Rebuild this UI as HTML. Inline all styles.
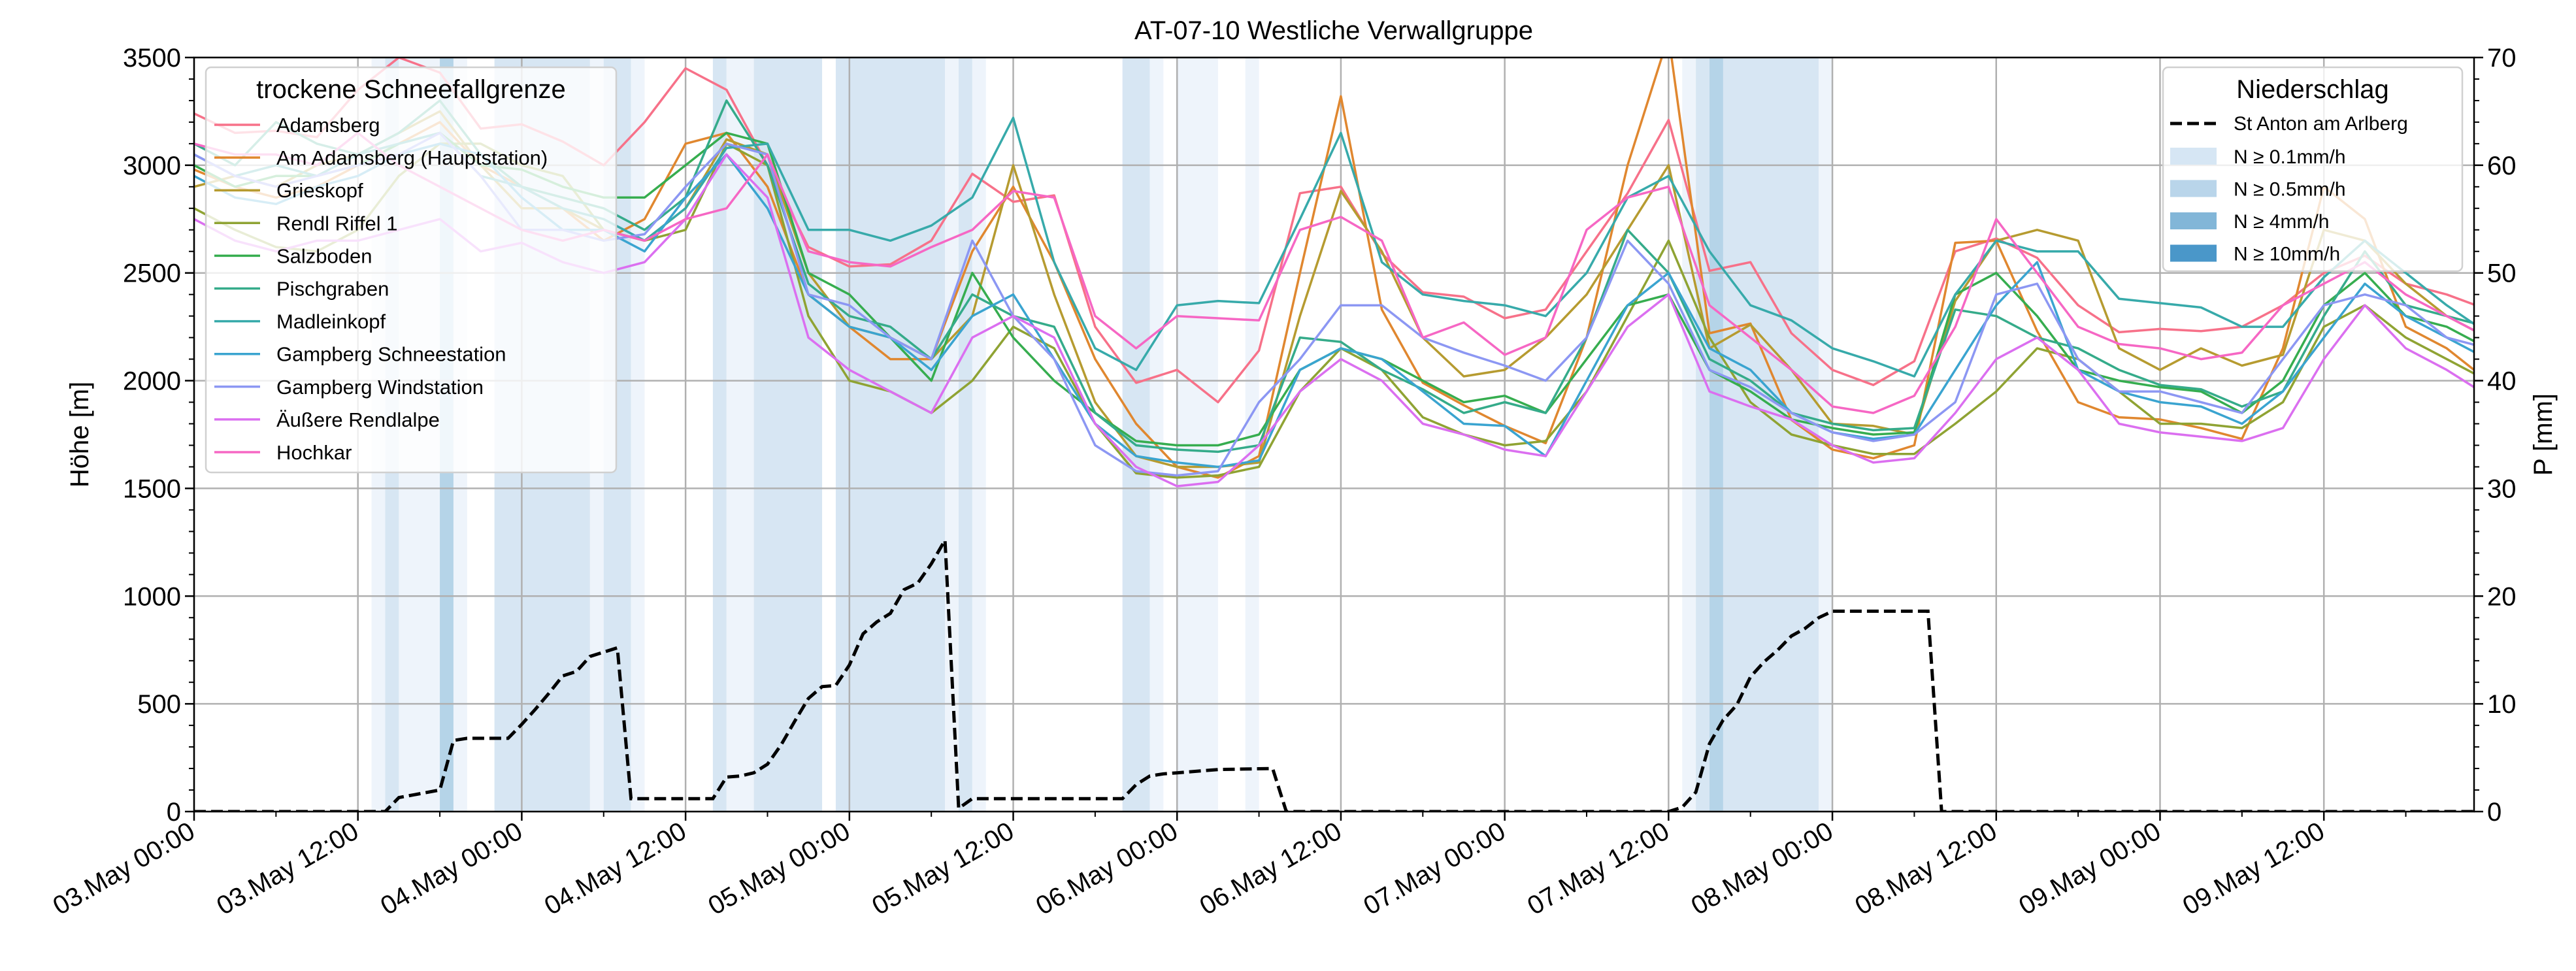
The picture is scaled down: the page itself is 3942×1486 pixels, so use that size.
<!DOCTYPE html>
<html><head><meta charset="utf-8">
<style>
html,body{margin:0;padding:0;background:#fff;}
svg text{font-family:"Liberation Sans","DejaVu Sans",sans-serif;}
</style></head>
<body>
<svg id="chart" xmlns="http://www.w3.org/2000/svg" width="3942" height="1481" viewBox="0 0 3942 1481">
<defs><clipPath id="plotclip"><rect x="297" y="88" width="3489" height="1154"/></clipPath></defs>
<rect x="0" y="0" width="3942" height="1481" fill="#fff"/>
<text x="2041" y="60" font-size="40" text-anchor="middle">AT-07-10 Westliche Verwallgruppe</text>
<g id="bands" clip-path="url(#plotclip)"></g>
<g id="grid"></g>
<g id="lines" clip-path="url(#plotclip)"></g>
<g id="precip" clip-path="url(#plotclip)"></g>
<g id="axes"></g>
<g id="legend-left"></g>
<g id="legend-right"></g>
<text transform="translate(135,665) rotate(-90)" font-size="40" text-anchor="middle">Höhe [m]</text>
<text transform="translate(3905,665) rotate(-90)" font-size="40" text-anchor="middle">P [mm]</text>
</svg>
<script>
const hours = [0,3,6,9,12,15,18,21,24,27,30,33,36,39,42,45,48,51,54,57,60,63,66,69,72,75,78,81,84,87,90,93,96,99,102,105,108,111,114,117,120,123,126,129,132,135,138,141,144,147,150,153,156,159,162,165,168];
const stationNames = ["Adamsberg","Am Adamsberg (Hauptstation)","Grieskopf","Rendl Riffel 1","Salzboden","Pischgraben","Madleinkopf","Gampberg Schneestation","Gampberg Windstation","Äußere Rendlalpe","Hochkar"];
const stationColors = ["#f77189","#e0872f","#b69b30","#8fa333","#36ad4f","#35ab8a","#37aaaa","#3aa4d0","#8c97f3","#db6ff0","#f667c4"];
const sAdamsberg = [3240,3150,3160,3130,3350,3500,3430,3170,3190,3110,3000,3200,3450,3350,3000,2620,2530,2540,2650,2960,2830,2860,2250,1990,2050,1900,2140,2870,2900,2590,2410,2390,2290,2330,2600,2870,3210,2510,2550,2220,2050,1980,2090,2600,2660,2570,2350,2225,2240,2230,2250,2350,2500,2580,2450,2400,2330];
const sAmAdamsberg = [2980,2900,2850,2900,3000,3100,3200,3000,2900,2800,2650,2750,3100,3150,2900,2400,2250,2100,2100,2600,2900,2550,2100,1800,1600,1550,1650,2500,3320,2330,1990,1886,1790,1710,2200,3000,3600,2220,2265,1818,1680,1640,1700,2640,2650,2230,1900,1830,1820,1780,1730,2150,2900,2750,2250,2150,2000];
const sGrieskopf = [2900,2950,2900,3000,3050,3150,3250,3000,2800,2800,2700,2650,2800,3120,3050,2500,2250,2200,2100,2300,3000,2400,1900,1650,1600,1600,1620,2300,2880,2600,2200,2020,2050,2200,2400,2700,3000,2150,2260,2050,1800,1790,1750,2370,2650,2700,2650,2150,2050,2150,2070,2120,2700,2650,2450,2300,2200];
const sRendl = [2800,2700,2620,2600,2700,2950,3100,3100,3000,2950,2700,2650,2700,3100,3000,2300,2000,1950,1850,2000,2250,2150,1800,1570,1550,1560,1600,1950,2150,2050,1830,1750,1700,1720,1950,2300,2650,2200,1900,1750,1700,1660,1660,1800,1950,2150,2100,1950,1800,1800,1780,1900,2250,2350,2200,2100,2000];
const sSalzboden = [3000,2900,2950,2950,3000,3100,3150,3000,2980,2900,2850,2850,3000,3150,3100,2500,2400,2200,2000,2500,2200,2000,1850,1720,1700,1700,1750,2050,2150,2100,2000,1900,1930,1850,2100,2350,2400,2050,1950,1820,1780,1750,1760,2400,2500,2300,2050,2000,1970,1950,1850,2000,2350,2500,2300,2250,2150];
const sPischgraben = [3100,3000,3200,3100,3050,3150,3300,3050,2900,2850,2800,2700,2850,3300,3000,2450,2300,2250,2100,2400,2300,2250,1850,1700,1680,1670,1700,2200,2180,2050,1960,1850,1900,1850,2200,2700,2500,2100,2000,1850,1800,1770,1780,2330,2300,2200,2150,2050,1980,1960,1880,1950,2300,2600,2350,2300,2250];
const sMadleinkopf = [3050,2950,3000,2950,3050,3100,3150,2950,2900,2800,2750,2650,2800,3080,3100,2700,2700,2650,2720,2850,3220,2550,2150,2050,2350,2370,2360,2750,3150,2550,2400,2370,2350,2300,2500,2850,2950,2600,2350,2280,2150,2090,2020,2400,2650,2600,2600,2380,2360,2340,2250,2250,2480,2650,2500,2350,2220];
const sGampbergSchnee = [2950,2850,2820,2900,2950,3050,3100,3050,2850,2700,2700,2600,2850,3050,2800,2400,2250,2200,2050,2300,2400,2100,1800,1650,1620,1600,1630,2050,2150,2100,1950,1800,1790,1650,2000,2350,2500,2150,2050,1850,1760,1730,1750,2050,2350,2550,2050,1950,1900,1880,1800,1950,2200,2450,2300,2200,2100];
const sGampbergWind = [3050,2950,2900,2950,3000,3050,3150,2950,2700,2700,2650,2680,2900,3100,3050,2400,2350,2200,2100,2650,2300,2100,1700,1580,1560,1580,1900,2100,2350,2350,2200,2130,2070,2000,2200,2650,2450,2050,1970,1850,1760,1720,1750,1900,2400,2450,2100,1950,1950,1900,1850,2100,2350,2400,2350,2200,2150];
const sRendlalpe = [2750,2650,2600,2650,2650,2700,2750,2600,2640,2550,2500,2550,2750,3050,2850,2200,2050,1950,1850,2200,2300,2200,1800,1600,1510,1530,1700,1950,2100,2000,1800,1750,1680,1650,1950,2250,2400,1950,1880,1820,1700,1620,1640,1850,2100,2200,2050,1800,1760,1740,1720,1780,2100,2350,2150,2050,1930];
const sHochkar = [3100,3050,3050,3000,3150,3000,2900,2800,2700,2650,2700,2650,2750,2800,3050,2600,2550,2530,2620,2700,2880,2850,2300,2150,2300,2290,2280,2700,2760,2650,2200,2270,2120,2200,2700,2850,2900,2350,2200,2050,1880,1850,1930,2250,2750,2500,2250,2170,2150,2100,2130,2350,2450,2550,2400,2300,2200];
const stationSeries = [sAdamsberg,sAmAdamsberg,sGrieskopf,sRendl,sSalzboden,sPischgraben,sMadleinkopf,sGampbergSchnee,sGampbergWind,sRendlalpe,sHochkar];
const precipHours = [0,14,15,18,19,20,23,24,25,26,27,28,29,30,31,32,38,39,40,41,42,43,44,45,46,47,48,49,50,51,52,53,54,55,56,57,68,69,70,71,72,75,79,80,108,109,110,111,112,113,114,115,116,117,118,119,120,127,128,167];
const precipValues = [0,0,1.3,2.0,6.6,6.8,6.8,8.1,9.5,11,12.6,13,14.4,14.8,15.2,1.2,1.2,3.2,3.3,3.6,4.4,6.2,8.4,10.5,11.6,11.7,13.6,16.5,17.6,18.4,20.6,21.2,23,25.2,0.3,1.2,1.2,2.5,3.3,3.5,3.6,3.9,4.0,0,0,0.4,1.8,6.3,8.5,9.9,12.5,13.9,15,16.3,17,18,18.6,18.6,0,0];
const bandStart = [13,14,15,18,19,22,29,30,32,38,39,41,47,55,56,57,68,70,72,77,109,110,111,112,119];
const bandEnd   = [14,15,18,19,20,29,30,32,33,39,41,46,55,56,57,58,70,71,75,78,110,111,112,119,120];
const bandLevel = [1,2,1,3,1,2,1,2,1,2,1,2,2,1,2,1,2,1,1,1,1,2,3,2,1];
const yTicks = [0,500,1000,1500,2000,2500,3000,3500];
const y2Ticks = [0,10,20,30,40,50,60,70];
const xTickHours = [0,12,24,36,48,60,72,84,96,108,120,132,144,156];
const xTickLabels = ["03.May 00:00","03.May 12:00","04.May 00:00","04.May 12:00","05.May 00:00","05.May 12:00","06.May 00:00","06.May 12:00","07.May 00:00","07.May 12:00","08.May 00:00","08.May 12:00","09.May 00:00","09.May 12:00"];

const NS="http://www.w3.org/2000/svg";
const L=297,R=3786,T=88,B=1242;
function X(h){return L+h*(R-L)/167;}
function Y(m){return B-m*(B-T)/3500;}
function Y2(p){return B-p*(B-T)/70;}
function mk(tag,attrs,parent){const e=document.createElementNS(NS,tag);for(const k in attrs)e.setAttribute(k,attrs[k]);parent.appendChild(e);return e;}
const bandColors=["","#eef4fb","#d7e6f3","#b5d4e8"];

const gB=document.getElementById('bands');
for(let i=0;i<bandStart.length;i++){
  const r=mk('rect',{x:X(bandStart[i]),y:T,width:X(bandEnd[i])-X(bandStart[i]),height:B-T,fill:bandColors[bandLevel[i]]},gB);
  
  
}
const gG=document.getElementById('grid');
xTickHours.forEach(h=>{const l=mk('line',{x1:X(h),x2:X(h),y1:T,y2:B,stroke:'#b0b0b0','stroke-width':2.5},gG);
  
  });
yTicks.forEach(v=>{const l=mk('line',{x1:L,x2:R,y1:Y(v),y2:Y(v),stroke:'#b0b0b0','stroke-width':2.5},gG);
  
  });

const gL=document.getElementById('lines');
stationSeries.forEach((s,i)=>{
  const d=s.map((v,j)=>(j?'L':'M')+X(hours[j]).toFixed(1)+' '+Y(v).toFixed(1)).join(' ');
  const p=mk('path',{d:d,fill:'none',stroke:stationColors[i],'stroke-width':3.5,'stroke-linejoin':'round'},gL);
  
  
});
const gP=document.getElementById('precip');
const pd=precipValues.map((v,j)=>(j?'L':'M')+X(precipHours[j]).toFixed(1)+' '+Y2(v).toFixed(1)).join(' ');
const pp=mk('path',{d:pd,fill:'none',stroke:'#000','stroke-width':5,'stroke-dasharray':'18,8'},gP);



const gA=document.getElementById('axes');
mk('rect',{x:L,y:T,width:R-L,height:B-T,fill:'none',stroke:'#000','stroke-width':2.5},gA);
yTicks.forEach(v=>{mk('line',{x1:L-14,x2:L,y1:Y(v),y2:Y(v),stroke:'#000','stroke-width':2.5},gA);
  const t=mk('text',{x:L-20,y:Y(v)+14,'font-size':40,'text-anchor':'end'},gA);t.textContent=v;
  
  });
for(let v=100;v<3500;v+=100){if(v%500)mk('line',{x1:L-8,x2:L,y1:Y(v),y2:Y(v),stroke:'#000','stroke-width':2},gA);}
y2Ticks.forEach(v=>{mk('line',{x1:R,x2:R+14,y1:Y2(v),y2:Y2(v),stroke:'#000','stroke-width':2.5},gA);
  const t=mk('text',{x:R+20,y:Y2(v)+14,'font-size':40},gA);t.textContent=v;
  
  });
for(let v=2;v<70;v+=2){if(v%10)mk('line',{x1:R,x2:R+8,y1:Y2(v),y2:Y2(v),stroke:'#000','stroke-width':2},gA);}
xTickHours.forEach((h,i)=>{mk('line',{x1:X(h),x2:X(h),y1:B,y2:B+14,stroke:'#000','stroke-width':2.5},gA);
  mk('line',{x1:X(h+6),x2:X(h+6),y1:B,y2:B+8,stroke:'#000','stroke-width':2},gA);
  const t=mk('text',{transform:`translate(${X(h)+4},${B+38}) rotate(-30)`,'font-size':40,'text-anchor':'end'},gA);
  t.textContent=xTickLabels[i];
  
  });

// left legend
const gLL=document.getElementById('legend-left');


mk('rect',{x:315,y:103,width:628,height:620,rx:8,fill:'#fff','fill-opacity':0.8,stroke:'#d0d0d0','stroke-width':2.5},gLL);
const lt=mk('text',{x:629,y:150,'font-size':40,'text-anchor':'middle'},gLL);lt.textContent='trockene Schneefallgrenze';
stationNames.forEach((n,i)=>{const y=191+i*50.1;
  mk('line',{x1:328,x2:398,y1:y,y2:y,stroke:stationColors[i],'stroke-width':3.5},gLL);
  const t=mk('text',{x:423,y:y+11,'font-size':31},gLL);t.textContent=n;
  
  });

// right legend
const gLR=document.getElementById('legend-right');


mk('rect',{x:3310,y:103,width:458,height:312,rx:8,fill:'#fff','fill-opacity':0.8,stroke:'#d0d0d0','stroke-width':2.5},gLR);
const rt=mk('text',{x:3539,y:150,'font-size':40,'text-anchor':'middle'},gLR);rt.textContent='Niederschlag';
mk('line',{x1:3321,x2:3392,y1:189,y2:189,stroke:'#000','stroke-width':5,'stroke-dasharray':'18,8'},gLR);
const rl=mk('text',{x:3418,y:199,'font-size':30},gLR);rl.textContent='St Anton am Arlberg';
const patchColors=["#d6e6f4","#b9d5ea","#82b6d8","#4a97c9"];
const patchLabels=["N ≥ 0.1mm/h","N ≥ 0.5mm/h","N ≥ 4mm/h","N ≥ 10mm/h"];
patchLabels.forEach((s,i)=>{const y=239+i*49.5;
  mk('rect',{x:3321,y:y-13,width:71,height:26,fill:patchColors[i]},gLR);
  const t=mk('text',{x:3418,y:y+11,'font-size':30},gLR);t.textContent=s;
  
  });
</script>
</body></html>
